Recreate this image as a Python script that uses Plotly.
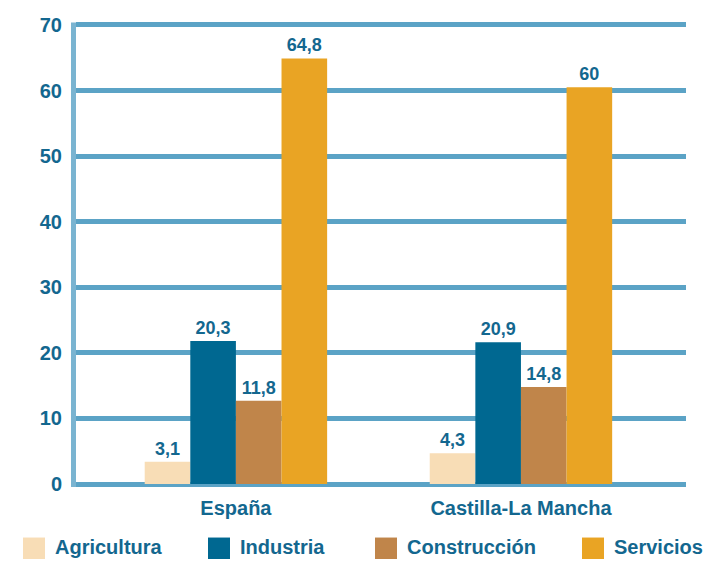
import plotly.graph_objects as go

regions = ["España", "Castilla-La Mancha"]
sectors = ["Agricultura", "Industria", "Construcción", "Servicios"]
colors = ["#f8ddb6", "#006891", "#c0854a", "#e9a424"]

# bar heights as drawn in the original, and the printed labels
heights = {
    "Agricultura": [3.4, 4.7],
    "Industria": [21.8, 21.6],
    "Construcción": [12.7, 14.8],
    "Servicios": [64.9, 60.5],
}
labels = {
    "Agricultura": ["3,1", "4,3"],
    "Industria": ["20,3", "20,9"],
    "Construcción": ["11,8", "14,8"],
    "Servicios": ["64,8", "60"],
}
y_ticks = [0, 10, 20, 30, 40, 50, 60, 70]

# page has an 8px body margin on every side; keep the figure inside the window
OFF = 8
W, H = 711 - 2 * OFF, 567 - 2 * OFF
L, R, T, B = 76 - OFF, 17, 6, 75
TXT = "#13678f"
GRID = "#5ba3c6"
FONT = "Liberation Sans, Arial, sans-serif"
YTOP = 70 + (21 - OFF - T) / (463 / 70)

def px(x):  # page pixel -> paper x
    return (x - OFF - L) / (W - L - R)

def py(y):  # page pixel -> paper y
    return (H - B - (y - OFF)) / (H - T - B)

fig = go.Figure()
for s, c in zip(sectors, colors):
    fig.add_trace(go.Bar(
        x=regions, y=heights[s], name=s, marker=dict(color=c, line=dict(width=0)),
        text=labels[s], textposition="outside", cliponaxis=False,
        textfont=dict(family=FONT, size=18, color=TXT, weight="bold"),
        showlegend=False,
    ))

# left axis line, from the zero line up to the top gridline
shapes = [dict(type="line", xref="paper", yref="paper", x0=px(73.5), x1=px(73.5),
               y0=py(487), y1=py(18.5), line=dict(color="#7ab4d1", width=5))]
annots = []

# legend drawn as squares + text along the bottom
leg_x = [23, 208, 375, 582]
for s, c, lx in zip(sectors, colors, leg_x):
    shapes.append(dict(type="rect", xref="paper", yref="paper",
                       x0=px(lx), x1=px(lx + 22), y0=py(560), y1=py(538),
                       fillcolor=c, line=dict(width=0)))
    annots.append(dict(xref="paper", yref="paper", x=px(lx + 30), y=py(548),
                       xanchor="left", yanchor="middle", text=s, showarrow=False,
                       font=dict(family=FONT, size=20, color=TXT, weight="bold")))

fig.update_layout(
    width=W, height=H,
    margin=dict(l=L, r=R, t=T, b=B),
    paper_bgcolor="white", plot_bgcolor="white",
    barmode="group", bargap=0.36, bargroupgap=0,
    shapes=shapes, annotations=annots,
    xaxis=dict(range=[-0.561, 1.579], showgrid=False, zeroline=False, showline=False,
               ticks="", ticklabelstandoff=10,
               tickfont=dict(family=FONT, size=20, color=TXT, weight="bold")),
    yaxis=dict(range=[0, YTOP], tickvals=y_ticks, showgrid=True, gridcolor=GRID, gridwidth=5,
               zeroline=True, zerolinecolor=GRID, zerolinewidth=5,
               showline=False, ticks="", ticklabelstandoff=13,
               tickfont=dict(family=FONT, size=20, color=TXT, weight="bold")),
)

fig.write_html("out.html")
